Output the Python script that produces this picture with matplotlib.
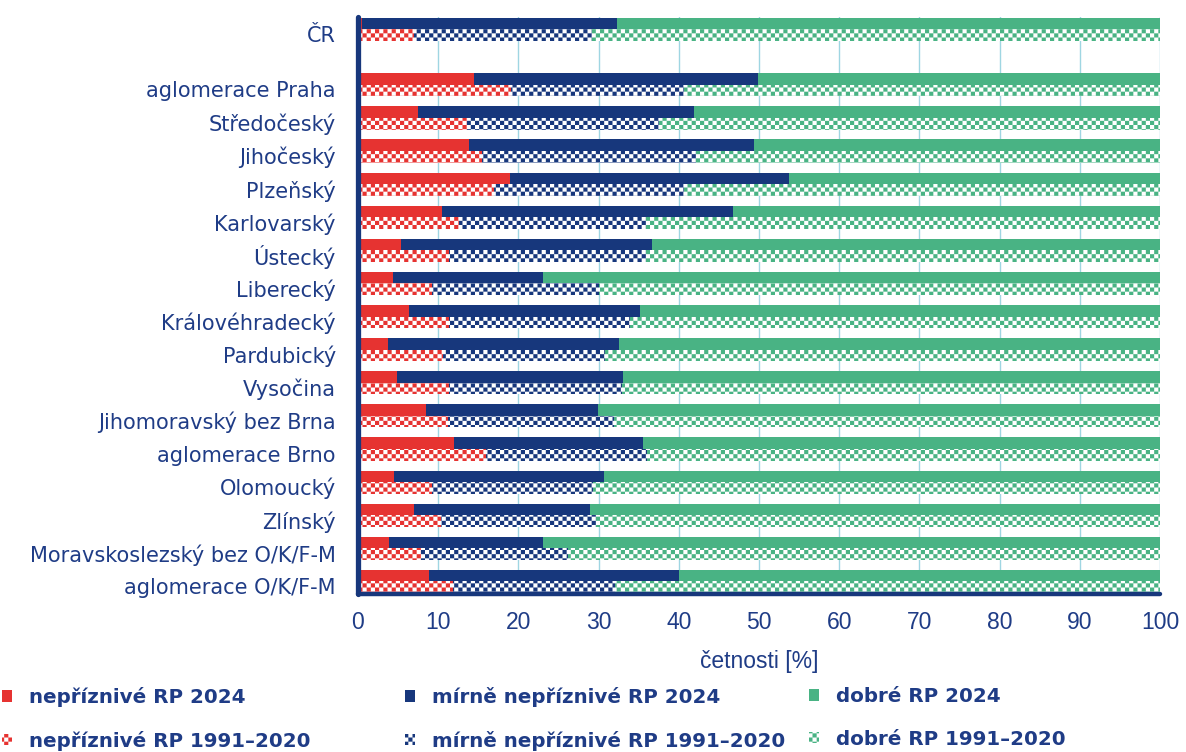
import numpy as np
import matplotlib
matplotlib.use("Agg")
import matplotlib.pyplot as plt
import matplotlib.hatch as mhatch
from matplotlib.path import Path
from matplotlib.patches import Patch

# ---------------- data ----------------
categories = ['ČR', 'aglomerace Praha', 'Středočeský', 'Jihočeský', 'Plzeňský',
              'Karlovarský', 'Ústecký', 'Liberecký', 'Královéhradecký', 'Pardubický',
              'Vysočina', 'Jihomoravský bez Brna', 'aglomerace Brno', 'Olomoucký',
              'Zlínský', 'Moravskoslezský bez O/K/F-M', 'aglomerace O/K/F-M']

nepriznive_2024 = [0.5, 14.5, 7.5, 13.9, 19.0, 10.5, 5.3, 4.4, 6.3, 3.8, 4.9, 8.5, 12.0, 4.5, 7.0, 3.9, 8.9]
mirne_2024 = [31.8, 35.4, 34.4, 35.5, 34.8, 36.2, 31.3, 18.7, 28.9, 28.8, 28.1, 21.4, 23.5, 26.2, 21.9, 19.2, 31.1]
dobre_2024 = [67.7, 50.1, 58.1, 50.6, 46.2, 53.3, 63.4, 76.9, 64.8, 67.4, 67.0, 70.1, 64.5, 69.3, 71.1, 76.9, 60.0]

nepriznive_norm = [7.0, 19.1, 13.6, 15.4, 16.9, 12.6, 11.4, 9.2, 11.4, 10.6, 11.3, 11.2, 15.9, 9.2, 10.3, 7.8, 11.9]
mirne_norm = [22.2, 21.6, 23.9, 26.7, 23.7, 23.3, 24.5, 20.9, 22.5, 20.2, 21.6, 20.7, 20.1, 20.1, 19.4, 18.4, 20.1]
dobre_norm = [70.8, 59.3, 62.5, 57.9, 59.4, 64.1, 64.1, 69.9, 66.1, 69.2, 67.1, 68.1, 64.0, 70.7, 70.3, 73.8, 68.0]

legend_2024 = ['nepříznivé RP 2024', 'mírně nepříznivé RP 2024', 'dobré RP 2024']
legend_norm = ['nepříznivé RP 1991–2020', 'mírně nepříznivé RP 1991–2020', 'dobré RP 1991–2020']
xticks = [0, 10, 20, 30, 40, 50, 60, 70, 80, 90, 100]
xlabel = 'četnosti [%]'

# ---------------- style ----------------
RED = '#E63331'
BLUE = '#17377C'
GREEN = '#49B384'
TEXT = '#1F3C86'
GRID = '#9FD6E2'


# checkerboard hatch
class Checker(mhatch.HatchPatternBase):
    def __init__(self, hatch, density):
        self.n = hatch.count('O')
        self.num_vertices = self.n * self.n * 2 * 5

    def set_vertices_and_codes(self, vertices, codes):
        s = 1.0 / self.n
        h = s / 2
        sq = np.array([[0, 0], [h, 0], [h, h], [0, h], [0, 0]], float)
        parts = []
        for i in range(self.n):
            for j in range(self.n):
                parts.append(sq + [i * s, j * s])
                parts.append(sq + [i * s + h, j * s + h])
        vertices[:] = np.concatenate(parts)
        codes[:] = np.tile([Path.MOVETO, Path.LINETO, Path.LINETO, Path.LINETO,
                            Path.CLOSEPOLY], 2 * self.n * self.n)


mhatch._hatch_types = [Checker]
HATCH = 'O' * 12
plt.rcParams['hatch.linewidth'] = 0.0

W, H = 1186, 752
fig = plt.figure(figsize=(W / 100, H / 100), dpi=100)
ax = fig.add_axes([358 / W, 1 - 594 / H, (1160 - 358) / W, (594 - 17) / H])

ypos = np.r_[-1.68, np.arange(len(categories) - 1)]
bh = 0.35

left = np.zeros(len(categories))
for vals, col in zip([nepriznive_2024, mirne_2024, dobre_2024], [RED, BLUE, GREEN]):
    ax.barh(ypos - bh / 2, vals, left=left, height=bh, color=col, linewidth=0, zorder=2)
    left = left + np.array(vals)

left = np.zeros(len(categories))
for vals, col in zip([nepriznive_norm, mirne_norm, dobre_norm], [RED, BLUE, GREEN]):
    ax.barh(ypos + bh / 2, vals, left=left, height=bh, facecolor='white', edgecolor=col,
            hatch=HATCH, linewidth=0, zorder=2)
    left = left + np.array(vals)

ax.set_xlim(0, 100)
ax.set_ylim(15.38, -2.05)
ax.set_xticks(xticks)
ax.set_xticklabels([str(t) for t in xticks], fontfamily='Liberation Sans', fontsize=16.5, color=TEXT)
ax.set_yticks(ypos + 0.14)
ax.set_yticklabels(categories, fontfamily='DejaVu Sans', fontsize=15, color=TEXT)
ax.tick_params(axis='both', length=0)
ax.tick_params(axis='x', pad=12)
ax.tick_params(axis='y', pad=16)
ax.set_xlabel(xlabel, fontfamily='Liberation Sans', fontsize=16.5, color=TEXT, labelpad=12)

ax.grid(axis='x', color=GRID, linewidth=1.0, zorder=0)
ax.grid(axis='y', visible=False)
ax.set_axisbelow(True)

for s in ['top', 'right']:
    ax.spines[s].set_visible(False)
ax.spines['left'].set_color(BLUE)
ax.spines['left'].set_linewidth(3.8)
ax.spines['left'].set_capstyle('round')
ax.spines['bottom'].set_color(BLUE)
ax.spines['bottom'].set_linewidth(3.2)
ax.spines['bottom'].set_capstyle('round')
ax.spines['left'].set_zorder(3)
ax.spines['bottom'].set_zorder(3)

# legends: three columns
col_x = [2, 405, 809]
for i, col in enumerate([RED, BLUE, GREEN]):
    handles = [Patch(facecolor=col, edgecolor=col, linewidth=0),
               Patch(facecolor='white', edgecolor=col, hatch=HATCH, linewidth=0)]
    leg = fig.legend(handles, [legend_2024[i], legend_norm[i]], loc='upper left',
                     bbox_to_anchor=(col_x[i] / W, 1 - 687 / H), frameon=False,
                     borderpad=0, borderaxespad=0, handlelength=0.5, handleheight=0.5,
                     handletextpad=0.85, labelspacing=1.2,
                     prop={'family': 'DejaVu Sans', 'weight': 'bold', 'size': 14.3},
                     labelcolor=TEXT)

fig.savefig('out.png', dpi=100)
